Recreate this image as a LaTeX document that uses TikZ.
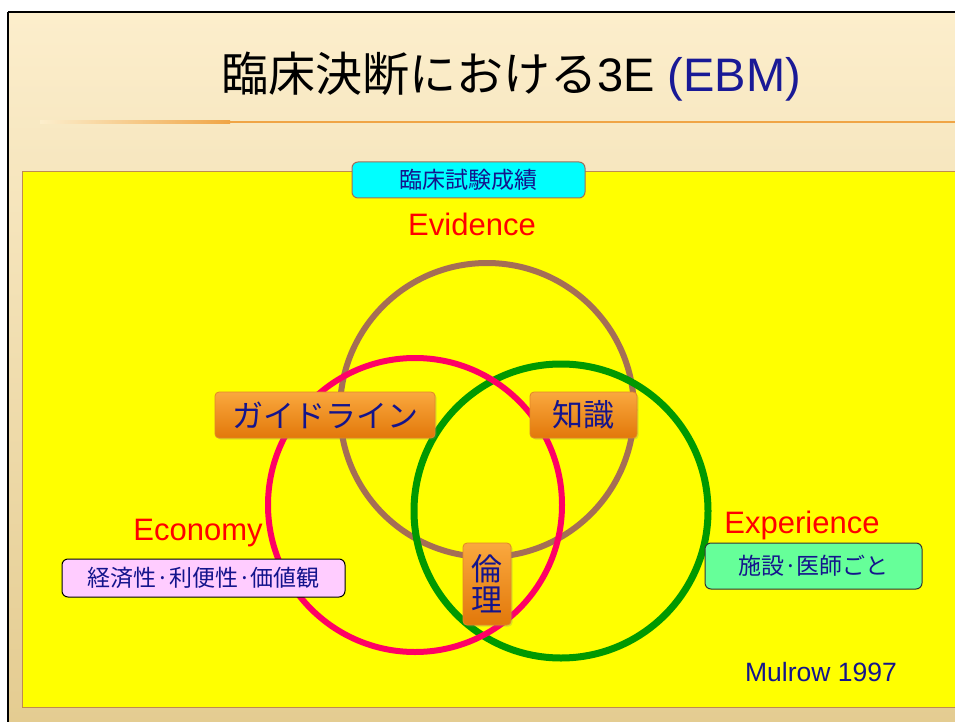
\documentclass[tikz,border=0pt]{standalone}
\usepackage{fontspec}
\setmainfont{Liberation Sans}
\newfontfamily\cjk{Noto Sans CJK JP}
\usetikzlibrary{shadows}
\definecolor{navy}{RGB}{20,20,140}
\definecolor{ebm}{RGB}{25,25,150}
\definecolor{redtxt}{RGB}{255,0,0}
\definecolor{bgtop}{RGB}{252,238,204}
\definecolor{bgbot}{RGB}{228,204,145}
\definecolor{yel}{RGB}{255,255,0}
\definecolor{yelborder}{RGB}{190,140,80}
\definecolor{cyanbox}{RGB}{0,255,255}
\definecolor{cyanborder}{RGB}{160,110,90}
\definecolor{pinkbox}{RGB}{255,204,255}
\definecolor{greenbox}{RGB}{102,255,153}
\definecolor{btntop}{RGB}{250,168,62}
\definecolor{btnbot}{RGB}{226,120,10}
\definecolor{btnborder}{RGB}{225,135,40}
\definecolor{evcol}{RGB}{165,110,85}
\definecolor{eccol}{RGB}{255,0,102}
\definecolor{excol}{RGB}{0,153,0}
\definecolor{rule}{RGB}{240,165,70}
\tikzset{
  btn/.style={rounded corners=4pt, draw=btnborder, line width=0.8pt,
    top color=btntop, bottom color=btnbot, text=navy, inner sep=0pt,
    font=\cjk\fontsize{31}{33}\selectfont,
    drop shadow={shadow xshift=1.5pt, shadow yshift=-1.5pt, opacity=0.25}},
  tagbox/.style={rounded corners=6pt, line width=1pt, text=navy, inner sep=0pt,
    font=\cjk\fontsize{23}{25}\selectfont},
  elabel/.style={text=redtxt, font=\fontsize{31}{33}\selectfont, inner sep=0pt},
  ring/.style={circle, draw, inner sep=0pt, minimum size=294pt}
}
\begin{document}
\begin{tikzpicture}[x=1pt,y=-1pt]
\useasboundingbox (0,0) rectangle (955,722);
\fill[white] (0,0) rectangle (955,722);
% slide background
\shade[top color=bgtop, bottom color=bgbot] (9,13) rectangle (955,722);
\draw[line width=2pt] (8,12) -- (955,12);
\draw[line width=2pt] (8,12) -- (8,722);
% rule under title
\shade[left color=bgtop, right color=rule, draw=none] (40,121) rectangle (230,123.5);
\fill[rule] (230,121) rectangle (955,123.5);
% title
\node (title) at (511,77) {\cjk\fontsize{47}{49}\selectfont 臨床決断における\fontspec{Liberation Sans}3E \textcolor{ebm}{(EBM)}};
% yellow panel
\fill[yel, draw=yelborder, line width=1pt] (22,172) rectangle (956,707);
% circles
\node (ev) [ring, draw=evcol, line width=6pt] at (487,410) {};
\node (ex) [ring, draw=excol, line width=7pt] at (561,511) {};
\node (ec) [ring, draw=eccol, line width=6pt] at (415,505) {};
% labels
\node (evl) [elabel] at (472,224) {Evidence};
\node (ecl) [elabel] at (198,533) {Economy};
\node (exl) [elabel] at (802,525) {Experience};
\node (mul) [text=navy, font=\fontsize{26.5}{28}\selectfont, inner sep=0pt] at (821,672) {Mulrow 1997};
% tag boxes
\node (trial) [tagbox, fill=cyanbox, draw=cyanborder, minimum width=233pt, minimum height=36pt] at (468.5,180) {臨床試験成績};
\node (econ) [tagbox, fill=pinkbox, draw=black, minimum width=283pt, minimum height=38pt] at (203.5,578) {経済性·利便性·価値観};
\node (exp) [tagbox, fill=greenbox, draw=black!80, minimum width=217pt, minimum height=46pt] at (813.5,566) {施設·医師ごと};
% orange buttons
\node (guide) [btn, minimum width=220pt, minimum height=46pt] at (325,415) {ガイドライン};
\node (know) [btn, minimum width=107pt, minimum height=46pt] at (583.5,415) {知識};
\node (eth) [btn, minimum width=48pt, minimum height=82pt, align=center] at (487,584) {倫\\[-2pt]理};
\end{tikzpicture}
\end{document}
